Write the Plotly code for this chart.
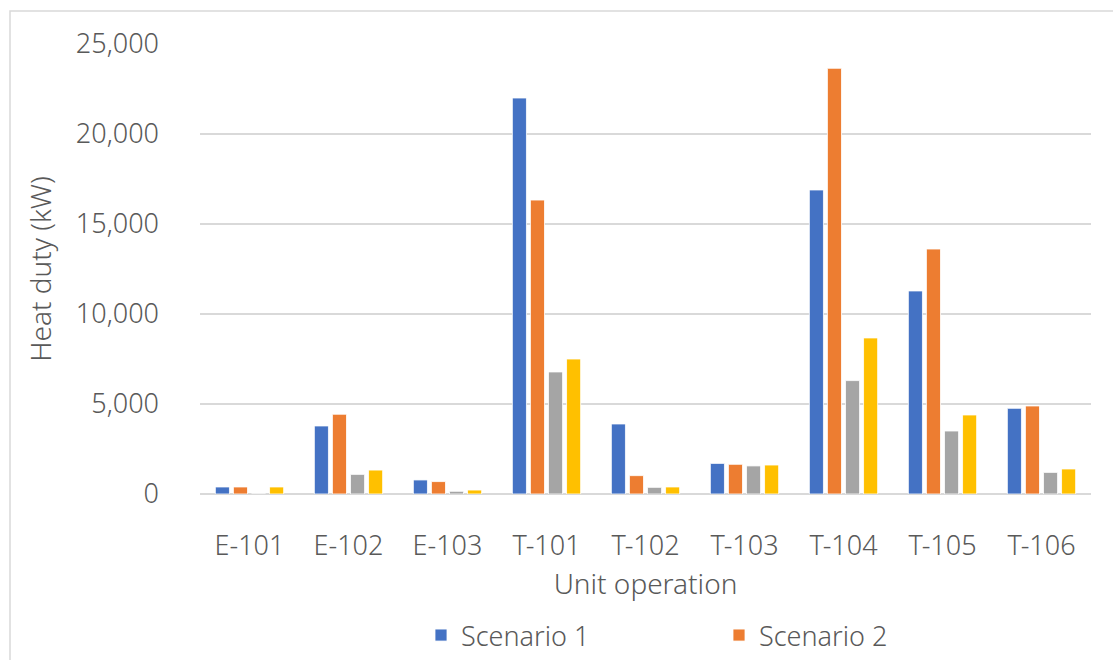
import plotly.graph_objects as go

categories = ["E-101", "E-102", "E-103", "T-101", "T-102", "T-103", "T-104", "T-105", "T-106"]
scenario_names = ["Scenario 1", "Scenario 2", "Scenario 3", "Scenario 4"]
scenario_1 = [390, 3780, 780, 22000, 3890, 1700, 16890, 11280, 4760]
scenario_2 = [390, 4430, 690, 16330, 1020, 1650, 23650, 13610, 4890]
scenario_3 = [0, 1090, 150, 6780, 370, 1560, 6300, 3500, 1200]
scenario_4 = [390, 1330, 220, 7500, 390, 1610, 8670, 4390, 1390]
y_ticks = [0, 5000, 10000, 15000, 20000, 25000]

colors = ["#4472C4", "#ED7D31", "#A5A5A5", "#FFC000"]
series = [scenario_1, scenario_2, scenario_3, scenario_4]
# the reference legend only shows the first row (Scenario 1, Scenario 2)
legend_visible = [True, True, False, False]

FONT = "Noto Sans"
TXT = "#595959"

fig = go.Figure()
for name, vals, c, show in zip(scenario_names, series, colors, legend_visible):
    fig.add_trace(go.Bar(
        x=categories, y=vals, name=name, showlegend=show,
        marker=dict(color=c, line=dict(color="white", width=0.8)),
    ))

L, R, T, B = 200, 22, 44, 166
W, H = 1113, 660
pw, ph = W - L - R, H - T - B

def px2x(p):
    return (p - L) / pw

def px2y(p):
    return 1 - (p - T) / ph

fig.update_layout(
    width=W, height=H,
    margin=dict(l=L, r=R, t=T, b=B, autoexpand=False),
    paper_bgcolor="white", plot_bgcolor="white",
    barmode="group", bargap=0.27, bargroupgap=0.22,
    font=dict(family=FONT, color=TXT, size=27, weight=300),
    legend=dict(
        orientation="h", x=px2x(421), y=px2y(611), xanchor="left", yanchor="top",
        font=dict(family=FONT, color=TXT, size=27, weight=300),
        entrywidth=253, entrywidthmode="pixels", itemwidth=30,
        traceorder="normal", bgcolor="rgba(0,0,0,0)",
    ),
    xaxis=dict(
        type="category", showgrid=False, showline=False, zeroline=False,
        ticks="", ticklabelstandoff=33,
        tickfont=dict(family=FONT, color=TXT, size=27, weight=300),
        title=dict(text="Unit operation", standoff=12,
                   font=dict(family=FONT, color=TXT, size=28, weight=300)),
        automargin=False,
    ),
    yaxis=dict(
        range=[0, 25000], tickvals=y_ticks, tickformat=",d",
        showgrid=True, gridcolor="#D9D9D9", gridwidth=1.5,
        zeroline=True, zerolinecolor="#D9D9D9", zerolinewidth=1.5,
        showline=False, ticks="", ticklabelstandoff=40,
        tickfont=dict(family=FONT, color=TXT, size=27, weight=300),
        title=dict(text="Heat duty (kW)", standoff=16,
                   font=dict(family=FONT, color=TXT, size=28, weight=300)),
        automargin=False,
    ),
)

fig.add_shape(
    type="rect", xref="paper", yref="paper",
    x0=px2x(10), x1=px2x(1125), y0=px2y(680), y1=px2y(11),
    line=dict(color="#D9D9D9", width=1.5), fillcolor="rgba(0,0,0,0)", layer="below",
)

fig.write_html("out.html")
